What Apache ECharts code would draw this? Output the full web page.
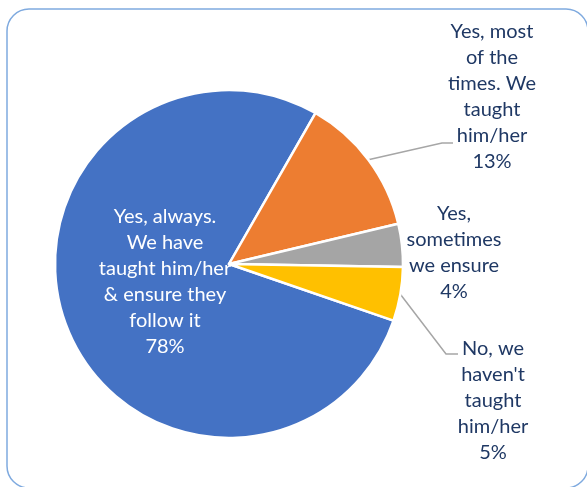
<!DOCTYPE html>
<html>
<head>
<meta charset="utf-8">
<script src="https://cdn.jsdelivr.net/npm/echarts@6/dist/echarts.min.js"></script>
<style>
html,body{margin:0;padding:0;background:#fff;}
#chart{width:587px;height:487px;}
</style>
</head>
<body>
<div id="chart"></div>
<script>
// ---- data ----
const categories = [
  "Yes, always. We have taught him/her & ensure they follow it",
  "Yes, most of the times. We taught him/her",
  "Yes, sometimes we ensure",
  "No, we haven't taught him/her"
];
const values = [78, 13, 4, 5];
const labelText = [
  "Yes, always.\nWe have\ntaught him/her\n& ensure they\nfollow it",
  "Yes, most\nof the\ntimes. We\ntaught\nhim/her",
  "Yes,\nsometimes\nwe ensure",
  "No, we\nhaven't\ntaught\nhim/her"
];
const colors = ["#4472C4", "#ED7D31", "#A5A5A5", "#FFC000"];

// ---- layout ----
const CX = 229, CY = 264, R = 174;
const START_FROM_TOP = 109; // degrees clockwise from 12 o'clock
const total = values.reduce((a, b) => a + b, 0);

function midEdgePoint(i) {
  let cum = 0;
  for (let k = 0; k < i; k++) cum += values[k];
  const a = (START_FROM_TOP + (cum + values[i] / 2) / total * 360) * Math.PI / 180;
  return [CX + R * Math.sin(a), CY - R * Math.cos(a)];
}

const labelAnchor = { 0: [165, 282], 1: [492, 97], 2: [454, 253], 3: [493, 401] };
const lineBend = { 1: [[442, 143], [453, 143]], 3: [[446, 354], [458, 354]] };

const chart = echarts.init(document.getElementById('chart'), null, { renderer: 'canvas' });

const data = categories.map((c, i) => {
  const d = { name: c, value: values[i], itemStyle: { color: colors[i] } };
  if (i === 0) {
    d.label = { position: 'inside', color: '#FFFFFF' };
    d.labelLine = { show: false };
  }
  if (i === 2) d.labelLine = { show: false };
  return d;
});

chart.setOption({
  animation: false,
  backgroundColor: '#ffffff',
  graphic: [{
    type: 'rect',
    shape: { x: 7, y: 9, width: 581, height: 479, r: 22 },
    style: { fill: 'none', stroke: '#7FAADF', lineWidth: 1.5 },
    silent: true
  }],
  series: [{
    type: 'pie',
    center: [CX, CY],
    radius: R,
    startAngle: 90 - START_FROM_TOP,
    clockwise: true,
    avoidLabelOverlap: false,
    emphasis: { disabled: true },
    itemStyle: { borderColor: '#ffffff', borderWidth: 2.5 },
    label: {
      show: true,
      position: 'outside',
      fontFamily: 'Lato',
      fontSize: 20,
      lineHeight: 26,
      color: '#1F3864',
      align: 'center',
      formatter: p => labelText[p.dataIndex] + '\n' + Math.round(p.percent) + '%'
    },
    labelLine: {
      show: true,
      length: 20,
      length2: 10,
      lineStyle: { color: '#A6A6A6', width: 1.5 }
    },
    labelLayout: function (params) {
      const i = params.dataIndex;
      const a = labelAnchor[i];
      const res = { x: a[0], y: a[1], align: 'center', verticalAlign: 'middle' };
      if (lineBend[i]) {
        res.labelLinePoints = [midEdgePoint(i), lineBend[i][0], lineBend[i][1]];
      }
      return res;
    },
    data: data
  }]
});
</script>
</body>
</html>
